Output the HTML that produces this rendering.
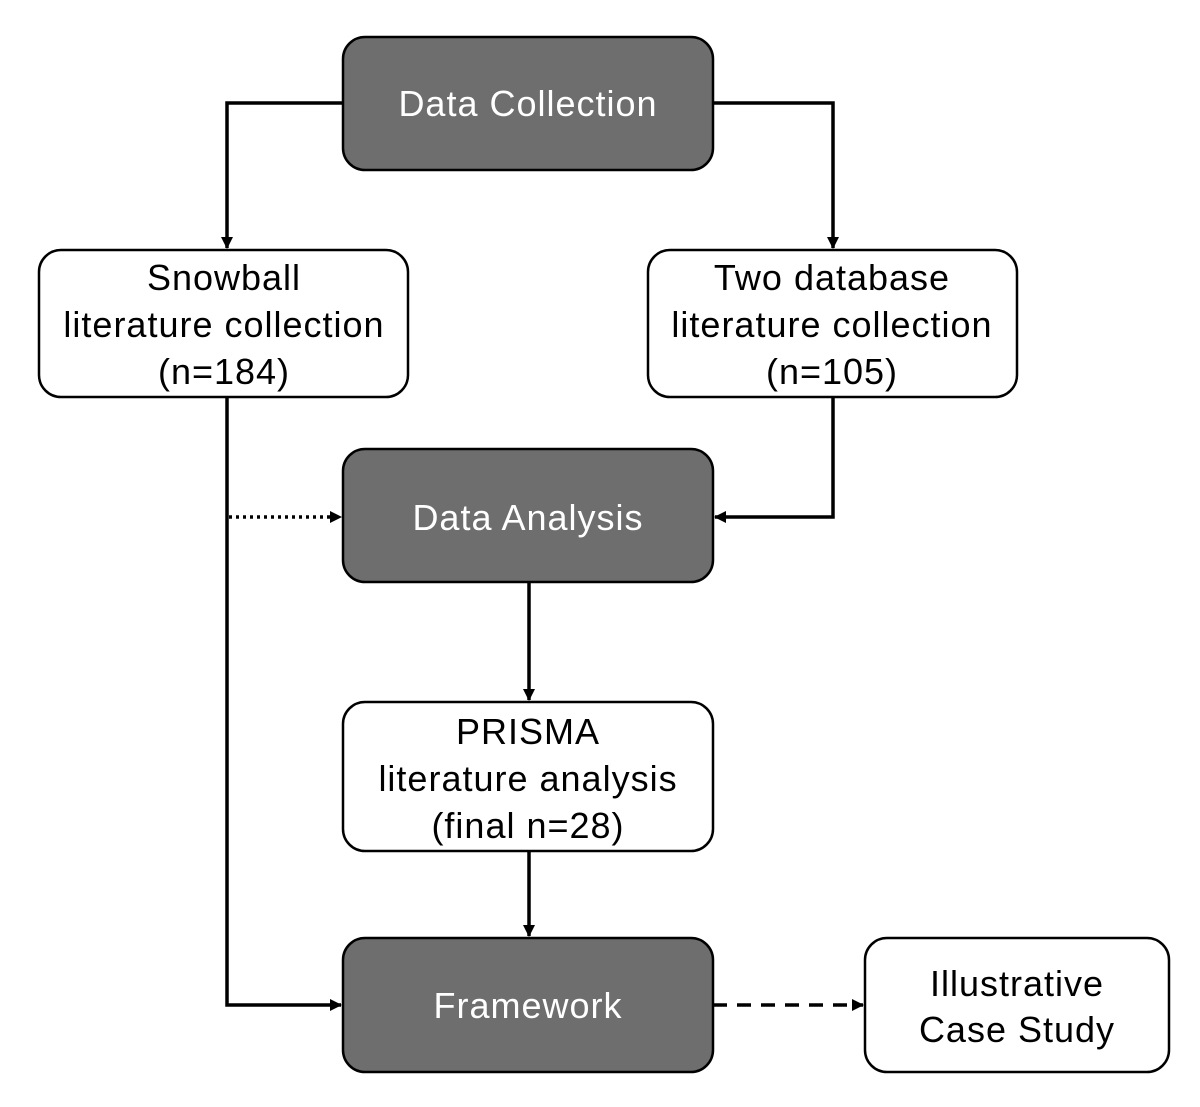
<!DOCTYPE html>
<html><head><meta charset="utf-8"><style>
html,body{margin:0;padding:0;background:#fff;}
svg{display:block;}
text{font-family:"Liberation Sans",sans-serif;font-size:36px;letter-spacing:1px;text-anchor:middle;}
</style></head><body>
<svg width="1200" height="1107" viewBox="0 0 1200 1107" xmlns="http://www.w3.org/2000/svg">
<defs>
<marker id="a" markerWidth="12" markerHeight="12" refX="11" refY="6" orient="auto" markerUnits="userSpaceOnUse">
<path d="M0,0 L12,6 L0,12 z" fill="#000"/></marker>
</defs>
<g stroke="#000" stroke-width="3.5" fill="none">
<polyline points="343,103 227,103 227,248" marker-end="url(#a)"/>
<polyline points="713,103 833,103 833,248" marker-end="url(#a)"/>
<polyline points="227,397 227,1005 341,1005" marker-end="url(#a)"/>
<line x1="229" y1="517" x2="341" y2="517" stroke-dasharray="3,4" marker-end="url(#a)"/>
<polyline points="833,397 833,517 715,517" marker-end="url(#a)"/>
<line x1="529" y1="582" x2="529" y2="700" marker-end="url(#a)"/>
<line x1="529" y1="851" x2="529" y2="936" marker-end="url(#a)"/>
<line x1="713" y1="1005" x2="863" y2="1005" stroke-dasharray="14,10" marker-end="url(#a)"/>
</g>
<g stroke="#000" stroke-width="2.5">
<rect x="343" y="37" width="370" height="133" rx="22" fill="#6e6e6e"/>
<rect x="39" y="250" width="369" height="147" rx="22" fill="#fff"/>
<rect x="648" y="250" width="369" height="147" rx="22" fill="#fff"/>
<rect x="343" y="449" width="370" height="133" rx="22" fill="#6e6e6e"/>
<rect x="343" y="702" width="370" height="149" rx="22" fill="#fff"/>
<rect x="343" y="938" width="370" height="134" rx="22" fill="#6e6e6e"/>
<rect x="865" y="938" width="304" height="134" rx="22" fill="#fff"/>
</g>
<g fill="#fff">
<text x="528" y="116">Data Collection</text>
<text x="528" y="530">Data Analysis</text>
<text x="528" y="1018">Framework</text>
</g>
<g fill="#000">
<text x="224" y="290">Snowball</text>
<text x="224" y="337">literature collection</text>
<text x="224" y="384">(n=184)</text>
<text x="832" y="290">Two database</text>
<text x="832" y="337">literature collection</text>
<text x="832" y="384">(n=105)</text>
<text x="528" y="744">PRISMA</text>
<text x="528" y="791">literature analysis</text>
<text x="528" y="838">(final n=28)</text>
<text x="1017" y="996">Illustrative</text>
<text x="1017" y="1042">Case Study</text>
</g>
</svg>
</body></html>
